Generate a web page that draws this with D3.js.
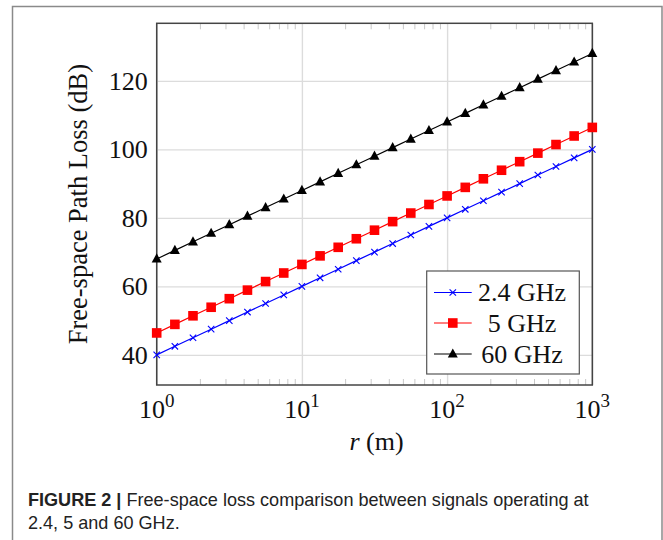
<!DOCTYPE html>
<html>
<head>
<meta charset="utf-8">
<script src="https://cdn.jsdelivr.net/npm/d3@7"></script>
<style>
  body { margin: 0; background: #fff; }
  svg { display: block; }
</style>
</head>
<body>
<svg id="chart" width="663" height="540"></svg>
<script>
// distance r (m), 8 points per decade
const distances = [1, 1.334, 1.778, 2.371, 3.162, 4.217, 5.623, 7.499,
  10, 13.34, 17.78, 23.71, 31.62, 42.17, 56.23, 74.99,
  100, 133.4, 177.8, 237.1, 316.2, 421.7, 562.3, 749.9, 1000];

const loss24 = [40.0, 42.5, 45.0, 47.5, 50.0, 52.5, 55.0, 57.5, 60.0, 62.5, 65.0, 67.5,
  70.0, 72.5, 75.0, 77.5, 80.0, 82.5, 85.0, 87.5, 90.0, 92.5, 95.0, 97.5, 100.0];
const loss5 = [46.4, 48.9, 51.4, 53.9, 56.4, 58.9, 61.4, 63.9, 66.4, 68.9, 71.4, 73.9,
  76.4, 78.9, 81.4, 83.9, 86.4, 88.9, 91.4, 93.9, 96.4, 98.9, 101.4, 103.9, 106.4];
const loss60 = [68.0, 70.5, 73.0, 75.5, 78.0, 80.5, 83.0, 85.5, 88.0, 90.5, 93.0, 95.5,
  98.0, 100.5, 103.0, 105.5, 108.0, 110.5, 113.0, 115.5, 118.0, 120.5, 123.0, 125.5, 128.0];

const seriesNames = ['2.4 GHz', '5 GHz', '60 GHz'];
const xMajorTicks = [1, 10, 100, 1000];
const yTicks = [40, 60, 80, 100, 120];

const series = [
  { name: seriesNames[0], values: loss24, color: '#0000ff', marker: 'cross' },
  { name: seriesNames[1], values: loss5, color: '#ff0000', marker: 'square' },
  { name: seriesNames[2], values: loss60, color: '#000000', marker: 'triangle' }
];

const svg = d3.select('#chart');
const serif = '"Liberation Serif", "Times New Roman", serif';

// outer figure frame
svg.append('rect')
  .attr('x', 12.5).attr('y', 6.5)
  .attr('width', 649.5).attr('height', 560)
  .attr('fill', 'none').attr('stroke', '#8a8a8a').attr('stroke-width', 1.5);

const plot = { left: 156.7, right: 592.3, top: 23.3, bottom: 385 };

const x = d3.scaleLog().domain([1, 1000]).range([plot.left, plot.right]);
const y = d3.scaleLinear().domain([31.2, 136.8]).range([plot.bottom, plot.top]);

const g = svg.append('g');

// grid
g.append('g')
  .attr('transform', `translate(0,${plot.bottom})`)
  .call(d3.axisBottom(x).tickValues(xMajorTicks).tickSize(-(plot.bottom - plot.top)).tickFormat(''))
  .call((a) => a.select('.domain').remove())
  .selectAll('line').attr('stroke', '#dcdcdc').attr('stroke-width', 1.4);

g.append('g')
  .attr('transform', `translate(${plot.left},0)`)
  .call(d3.axisLeft(y).tickValues(yTicks).tickSize(-(plot.right - plot.left)).tickFormat(''))
  .call((a) => a.select('.domain').remove())
  .selectAll('line').attr('stroke', '#dcdcdc').attr('stroke-width', 1.4);

// minor ticks on bottom and top (inside)
const minors = [];
[1, 10, 100].forEach((d) => {
  for (let k = 2; k <= 9; k++) minors.push(d * k);
});
g.selectAll('.minor-b')
  .data(minors)
  .join('line')
  .attr('class', 'minor-b')
  .attr('x1', (d) => x(d)).attr('x2', (d) => x(d))
  .attr('y1', plot.bottom).attr('y2', plot.bottom - 6)
  .attr('stroke', '#c8c8c8').attr('stroke-width', 1);
g.selectAll('.minor-t')
  .data(minors)
  .join('line')
  .attr('class', 'minor-t')
  .attr('x1', (d) => x(d)).attr('x2', (d) => x(d))
  .attr('y1', plot.top).attr('y2', plot.top + 6)
  .attr('stroke', '#c8c8c8').attr('stroke-width', 1);

// plot box
g.append('rect')
  .attr('x', plot.left).attr('y', plot.top)
  .attr('width', plot.right - plot.left).attr('height', plot.bottom - plot.top)
  .attr('fill', 'none').attr('stroke', '#444').attr('stroke-width', 1.5);

// markers
function drawMarker(sel, type, color) {
  if (type === 'cross') {
    sel.append('path')
      .attr('d', 'M-3.2,-3.2L3.2,3.2M-3.2,3.2L3.2,-3.2')
      .attr('stroke', color).attr('stroke-width', 1.1).attr('fill', 'none');
  } else if (type === 'square') {
    sel.append('rect')
      .attr('x', -4.8).attr('y', -4.8).attr('width', 9.6).attr('height', 9.6)
      .attr('fill', color);
  } else {
    sel.append('path')
      .attr('d', 'M0,-5.6L5,3.6L-5,3.6Z')
      .attr('fill', color);
  }
}

const line = d3.line()
  .x((d) => x(d[0]))
  .y((d) => y(d[1]));

series.forEach((s) => {
  const pts = distances.map((r, i) => [r, s.values[i]]);
  g.append('path')
    .datum(pts)
    .attr('d', line)
    .attr('fill', 'none')
    .attr('stroke', s.color)
    .attr('stroke-width', 1.2);
  g.selectAll(null)
    .data(pts)
    .join('g')
    .attr('transform', (d) => `translate(${x(d[0])},${y(d[1])})`)
    .each(function () { drawMarker(d3.select(this), s.marker, s.color); });
});

// y tick labels
g.selectAll('.ylab')
  .data(yTicks)
  .join('text')
  .attr('class', 'ylab')
  .attr('x', plot.left - 9)
  .attr('y', (d) => y(d) + 9)
  .attr('text-anchor', 'end')
  .style('font-family', serif)
  .style('font-size', '26px')
  .attr('fill', '#111')
  .text((d) => d);

// x tick labels 10^k
const xl = g.selectAll('.xlab')
  .data(xMajorTicks)
  .join('text')
  .attr('class', 'xlab')
  .attr('x', (d) => x(d))
  .attr('y', 418)
  .attr('text-anchor', 'middle')
  .style('font-family', serif)
  .style('font-size', '26px')
  .attr('fill', '#111');
xl.append('tspan').text('10');
xl.append('tspan')
  .attr('dy', -11)
  .style('font-size', '19px')
  .text((d) => Math.round(Math.log10(d)));

// axis titles
const xt = svg.append('text')
  .attr('x', (plot.left + plot.right) / 2 + 2)
  .attr('y', 450)
  .attr('text-anchor', 'middle')
  .style('font-family', serif)
  .style('font-size', '26px')
  .attr('fill', '#111');
xt.append('tspan').style('font-style', 'italic').text('r');
xt.append('tspan').text(' (m)');

svg.append('text')
  .attr('transform', `translate(87,${(plot.top + plot.bottom) / 2}) rotate(-90)`)
  .attr('text-anchor', 'middle')
  .style('font-family', serif)
  .style('font-size', '26.5px')
  .attr('fill', '#111')
  .text('Free-space Path Loss (dB)');

// legend
const leg = svg.append('g');
leg.append('rect')
  .attr('x', 426.7).attr('y', 271)
  .attr('width', 152.6).attr('height', 103)
  .attr('fill', '#fff').attr('stroke', '#555').attr('stroke-width', 1.2);

const legRows = [292.5, 323, 354];
series.forEach((s, i) => {
  const row = leg.append('g').attr('transform', `translate(0,${legRows[i]})`);
  row.append('line')
    .attr('x1', 434).attr('x2', 471.7)
    .attr('stroke', s.color).attr('stroke-width', 1.2);
  const m = row.append('g').attr('transform', 'translate(452.8,0)');
  drawMarker(m, s.marker, s.color);
  row.append('text')
    .attr('x', 522).attr('y', 8.5)
    .attr('text-anchor', 'middle')
    .style('font-family', serif)
    .style('font-size', '26px')
    .attr('fill', '#111')
    .text(s.name);
});

// caption
const cap1 = svg.append('text')
  .attr('x', 28).attr('y', 506)
  .style('font-family', '"Liberation Sans", Arial, sans-serif')
  .style('font-size', '18.5px')
  .attr('fill', '#222');
cap1.append('tspan').style('font-weight', 'bold').text('FIGURE 2 | ');
cap1.append('tspan').text('Free-space loss comparison between signals operating at');

const cap2 = svg.append('text')
  .attr('x', 28).attr('y', 529)
  .style('font-family', '"Liberation Sans", Arial, sans-serif')
  .style('font-size', '18.5px')
  .attr('fill', '#222')
  .text('2.4, 5 and 60 GHz.');

// squeeze caption to the condensed width of the original
const w1 = cap1.node().getComputedTextLength();
const sx = 561 / w1;
cap1.attr('transform', `translate(28,0) scale(${sx},1) translate(-28,0)`);
cap2.attr('transform', `translate(28,0) scale(${sx},1) translate(-28,0)`);
</script>
</body>
</html>
